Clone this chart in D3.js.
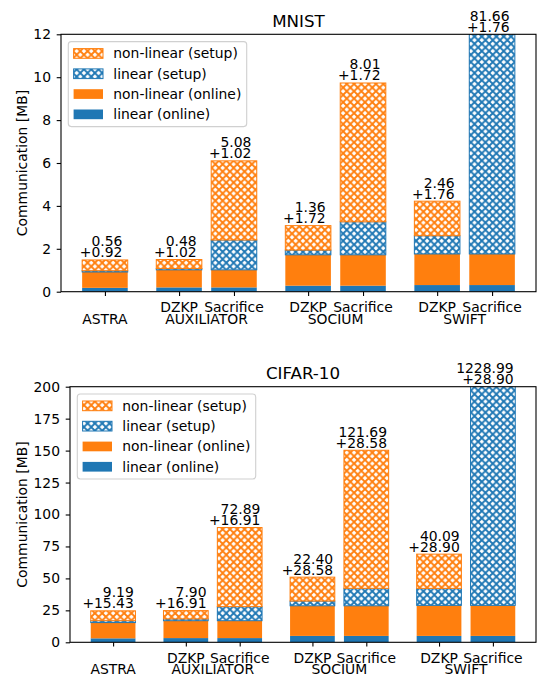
<!DOCTYPE html>
<html>
<head>
<meta charset="utf-8">
<script src="https://cdn.jsdelivr.net/npm/d3@7"></script>
<style>
  body { margin: 0; background: #fff; }
  svg { display: block; font-family: "DejaVu Sans", sans-serif; }
</style>
</head>
<body>
<svg id="chart" width="540" height="677"></svg>
<script>
/* Stacked communication bars, MNIST + CIFAR-10 */

const groups = ['ASTRA', 'AUXILIATOR', 'SOCIUM', 'SWIFT'];
const groupVariants = [[''], ['DZKP', 'Sacrifice'], ['DZKP', 'Sacrifice'], ['DZKP', 'Sacrifice']];
const seriesNames = ['linear (online)', 'non-linear (online)', 'linear (setup)', 'non-linear (setup)'];

// MNIST [MB], one value per bar (ASTRA, AUX DZKP, AUX Sacrifice, SOCIUM DZKP, ...)
const mnistLinOnline = [0.18, 0.20, 0.20, 0.28, 0.28, 0.31, 0.31];
const mnistNonlinOnline = [0.74, 0.82, 0.82, 1.44, 1.44, 1.45, 1.45];
const mnistLinSetup = [0.06, 0.06, 1.39, 0.22, 1.54, 0.85, 73.66];
const mnistNonlinSetup = [0.50, 0.42, 3.69, 1.14, 6.47, 1.61, 8.00];
const mnistTicks = [0, 2, 4, 6, 8, 10, 12];

// CIFAR-10 [MB]
const cifarLinOnline = [3.10, 3.30, 3.30, 5.00, 5.00, 5.00, 5.00];
const cifarNonlinOnline = [12.33, 13.61, 13.61, 23.58, 23.58, 23.90, 23.90];
const cifarLinSetup = [1.50, 1.40, 11.00, 3.70, 13.66, 13.30, 1120.00];
const cifarNonlinSetup = [7.69, 6.50, 61.89, 18.70, 108.03, 26.79, 108.99];
const cifarTicks = [0, 25, 50, 75, 100, 125, 150, 175, 200];

const BLUE = '#1f77b4';
const ORANGE = '#ff7f0e';
const FONT = 13.9;
const fmt = d3.format('.2f');

const svg = d3.select('#chart');
const defs = svg.append('defs');

// cross hatch patterns
[['hatch-blue', BLUE], ['hatch-orange', ORANGE]].forEach(([id, col]) => {
    const p = defs.append('pattern')
        .attr('id', id)
        .attr('patternUnits', 'userSpaceOnUse')
        .attr('width', 7.3).attr('height', 7.3);
    p.append('rect').attr('width', 7.3).attr('height', 7.3).attr('fill', '#fff');
    p.append('path')
        .attr('d', 'M-1,-1L8.3,8.3M8.3,-1L-1,8.3')
        .attr('stroke', col)
        .attr('stroke-width', 1.9);
});

const seriesStyle = [
    { fill: BLUE, stroke: 'none' },
    { fill: ORANGE, stroke: 'none' },
    { fill: 'url(#hatch-blue)', stroke: BLUE },
    { fill: 'url(#hatch-orange)', stroke: ORANGE },
];

// bar x positions in data units: 1 between bars of a group, 1.35 between groups
const bars = [];
let pos = 0;
groups.forEach((g, gi) => {
    groupVariants[gi].forEach((v, vi) => {
        bars.push({ group: g, variant: v, x: pos, first: vi === 0 });
        pos += 1;
    });
    pos += 0.35;
});

function drawPanel(cfg) {
    const { box, title, yMax, ticks, series, clipId, labelDx } = cfg;

    const x = d3.scaleLinear().domain([-0.8, 7.85]).range([box.left, box.right]);
    const y = d3.scaleLinear().domain([0, yMax]).range([box.bottom, box.top]);
    const bw = x(0.83) - x(0);

    const g = svg.append('g');

    defs.append('clipPath').attr('id', clipId)
        .append('rect')
        .attr('x', box.left).attr('y', box.top)
        .attr('width', box.right - box.left).attr('height', box.bottom - box.top);

    const rows = bars.map((b, i) => {
        const vals = series.map(s => s[i]);
        return { ...b, vals };
    });

    const stack = d3.stack().keys([0, 1, 2, 3]).value((d, k) => d.vals[k]);
    const layers = stack(rows);

    const barsG = g.append('g').attr('clip-path', `url(#${clipId})`);
    layers.forEach((layer, k) => {
        barsG.selectAll(null)
            .data(layer)
            .join('rect')
            .attr('x', d => x(d.data.x) - bw / 2)
            .attr('width', bw)
            .attr('y', d => y(d[1]))
            .attr('height', d => y(d[0]) - y(d[1]))
            .attr('fill', seriesStyle[k].fill)
            .attr('stroke', seriesStyle[k].stroke)
            .attr('stroke-width', seriesStyle[k].stroke === 'none' ? 0 : 1);
    });

    // value labels: setup on top, +online below
    rows.forEach(r => {
        const online = r.vals[0] + r.vals[1];
        const setup = r.vals[2] + r.vals[3];
        const top = y(Math.min(online + setup, yMax));
        const t = g.append('text')
            .attr('text-anchor', 'end')
            .attr('font-size', FONT)
            .attr('fill', '#000');
        t.append('tspan').attr('x', x(r.x) + labelDx).attr('y', top - 13.6).text(fmt(setup));
        t.append('tspan').attr('x', x(r.x) + labelDx).attr('y', top - 2.6).text('+' + fmt(online));
    });

    // frame
    g.append('rect')
        .attr('x', box.left).attr('y', box.top)
        .attr('width', box.right - box.left).attr('height', box.bottom - box.top)
        .attr('fill', 'none').attr('stroke', '#000').attr('stroke-width', 1.1);

    // y axis
    const yAxis = g.append('g')
        .attr('transform', `translate(${box.left},0)`)
        .call(d3.axisLeft(y).tickValues(ticks).tickSize(4.3).tickPadding(5.7).tickFormat(d3.format('d')));
    yAxis.select('.domain').remove();
    yAxis.selectAll('.tick line').attr('stroke', '#000').attr('stroke-width', 1.1);
    yAxis.selectAll('.tick text').attr('font-size', FONT).attr('font-family', 'DejaVu Sans').attr('fill', '#000');

    // x axis: variant names on line 1, group names on line 2
    const xAxis = g.append('g')
        .attr('transform', `translate(0,${box.bottom})`)
        .call(d3.axisBottom(x).tickValues(bars.map(b => b.x)).tickSize(4.3).tickFormat(''));
    xAxis.select('.domain').remove();
    xAxis.selectAll('.tick line').attr('stroke', '#000').attr('stroke-width', 1.1);

    bars.forEach(b => {
        g.append('text')
            .attr('x', x(b.x)).attr('y', box.bottom + 20.3)
            .attr('text-anchor', 'middle').attr('font-size', FONT)
            .text(b.variant);
    });
    groups.forEach(gn => {
        const xs = bars.filter(b => b.group === gn).map(b => x(b.x));
        g.append('text')
            .attr('x', d3.mean(xs)).attr('y', box.bottom + 31.8)
            .attr('text-anchor', 'middle').attr('font-size', FONT)
            .text(gn);
    });

    // title + y label
    g.append('text')
        .attr('x', (box.left + box.right) / 2).attr('y', box.top - 7.8)
        .attr('text-anchor', 'middle').attr('font-size', 16.7)
        .text(title);
    g.append('text')
        .attr('transform', `translate(${box.ylabelX},${(box.top + box.bottom) / 2}) rotate(-90)`)
        .attr('text-anchor', 'middle').attr('font-size', FONT)
        .text('Communication [MB]');

    // legend, top entry first
    const lx = box.left + 7.3, ly = box.top + 7.3;
    const leg = g.append('g');
    leg.append('rect')
        .attr('x', lx).attr('y', ly).attr('width', 178.4).attr('height', 85)
        .attr('rx', 3)
        .attr('fill', '#fff').attr('fill-opacity', 0.8)
        .attr('stroke', '#d0d0d0').attr('stroke-width', 1.1);
    [3, 2, 1, 0].forEach((k, i) => {
        const cy = ly + 11.8 + i * 20.3;
        leg.append('rect')
            .attr('x', lx + 5.3).attr('y', cy - 4.8)
            .attr('width', 29.4).attr('height', 9.7)
            .attr('fill', seriesStyle[k].fill)
            .attr('stroke', seriesStyle[k].stroke)
            .attr('stroke-width', seriesStyle[k].stroke === 'none' ? 0 : 1);
        leg.append('text')
            .attr('x', lx + 45).attr('y', cy + 5)
            .attr('font-size', FONT)
            .text(seriesNames[k]);
    });
}

drawPanel({
    box: { left: 61, right: 536, top: 34.3, bottom: 291.7, ylabelX: 26.5 },
    title: 'MNIST',
    yMax: 12,
    ticks: mnistTicks,
    series: [mnistLinOnline, mnistNonlinOnline, mnistLinSetup, mnistNonlinSetup],
    clipId: 'clip-mnist',
    labelDx: 17.5,
});

drawPanel({
    box: { left: 70, right: 536, top: 386.7, bottom: 642.3, ylabelX: 27 },
    title: 'CIFAR-10',
    yMax: 200,
    ticks: cifarTicks,
    series: [cifarLinOnline, cifarNonlinOnline, cifarLinSetup, cifarNonlinSetup],
    clipId: 'clip-cifar',
    labelDx: 20.7,
});
</script>
</body>
</html>
